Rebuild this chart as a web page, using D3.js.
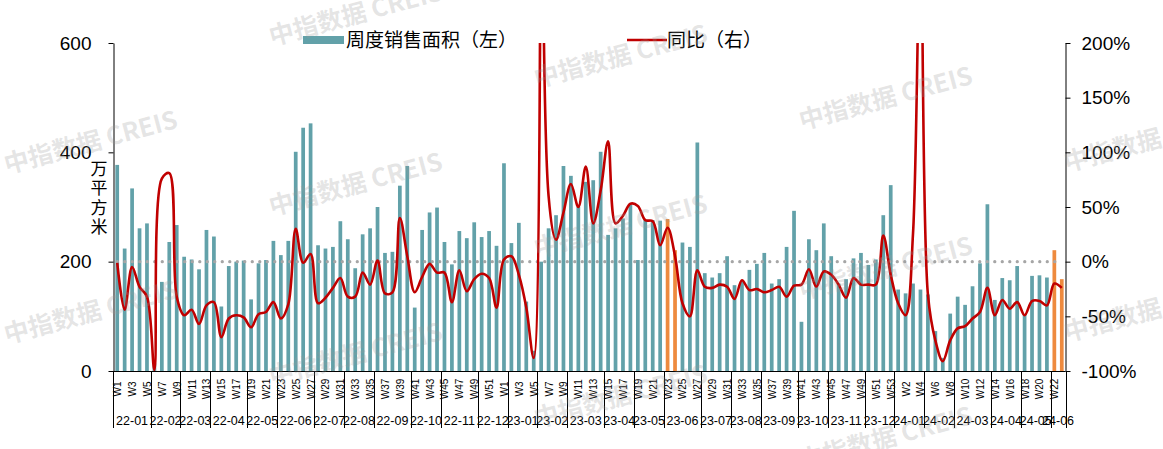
<!DOCTYPE html>
<html><head><meta charset="utf-8">
<script src="https://cdn.jsdelivr.net/npm/d3@7"></script>
<style>
body{margin:0;background:#fff;}
svg{display:block;font-family:"Liberation Sans",Arial,"Noto Sans CJK SC",sans-serif;}
</style>
</head><body>
<svg id="chart" width="1163" height="449"></svg>
<script>
// ---- categories (week labels per year) ----
const weeks2022 = ["W1","W2","W3","W4","W5","W6","W7","W8","W9","W10","W11","W12","W13","W14","W15","W16","W17","W18","W19","W20","W21","W22","W23","W24","W25","W26","W27","W28","W29","W30","W31","W32","W33","W34","W35","W36","W37","W38","W39","W40","W41","W42","W43","W44","W45","W46","W47","W48","W49","W50","W51","W52"];
const weeks2023 = ["W1","W2","W3","W4","W5","W6","W7","W8","W9","W10","W11","W12","W13","W14","W15","W16","W17","W18","W19","W20","W21","W22","W23","W24","W25","W26","W27","W28","W29","W30","W31","W32","W33","W34","W35","W36","W37","W38","W39","W40","W41","W42","W43","W44","W45","W46","W47","W48","W49","W50","W51","W52","W53"];
const weeks2024 = ["W1","W2","W3","W4","W5","W6","W7","W8","W9","W10","W11","W12","W13","W14","W15","W16","W17","W18","W19","W20","W21","W22","W23"];

// ---- month groups (label, number of weeks) ----
const monthLabels = ["22-01","22-02","22-03","22-04","22-05","22-06","22-07","22-08","22-09","22-10","22-11","22-12",
  "23-01","23-02","23-03","23-04","23-05","23-06","23-07","23-08","23-09","23-10","23-11","23-12",
  "24-01","24-02","24-03","24-04","24-05","24-06"];
const monthWeekCounts = [5,4,4,5,4,5,4,4,5,4,5,4, 4,4,5,4,4,5,4,4,5,4,5,4, 4,4,5,4,4,2];

// ---- weekly sales area (万平方米, left axis) ----
const sales2022 = [377,224,334,261,270,14,163,236,267,209,204,186,258,246,118,192,200,202,131,197,203,238,212,238,401,445,453,230,224,227,274,241,188,250,261,300,216,218,339,375,116,258,290,299,236,195,256,243,272,245,256,229];
const sales2023 = [380,234,271,127,37,200,261,285,375,357,300,346,349,401,249,261,279,304,203,276,276,275,278,221,235,227,418,179,171,179,210,157,165,185,196,216,160,168,227,293,90,241,221,270,210,160,168,206,216,194,204,285,340];
const sales2024 = [149,142,160,149,140,73,24,105,136,121,155,197,305,130,170,166,192,104,174,175,171,221,168];

// ---- year-on-year change (%, right axis) ----
const yoy2022 = [-1,-44,-5,-23,-32,-99,76,81,-32,-49,-44,-57,-40,-37,-69,-52,-49,-51,-60,-48,-46,-37,-52,-39,30,-1,7,-38,-33,-24,-15,-32,-32,-10,-21,1,-29,-28,40,5,-28,-14,-2,-10,-10,-37,-8,-27,-16,-11,-15,-42];
const yoy2023 = [2,5,-12,-42,-88,1350,60,20,45,71,50,87,35,65,110,35,42,53,51,38,37,15,31,5,-38,-50,-8,-23,-24,-21,-23,-34,-17,-26,-25,-28,-26,-23,-32,-22,-21,-7,-23,-9,-12,-21,-33,-15,-21,-21,-21,24,-12];
const yoy2024 = [-38,-49,26,300,-30,-72,-91,-72,-61,-59,-52,-46,-24,-49,-35,-43,-37,-49,-36,-36,-40,-20,-24];

// highlighted (orange) weeks
const highlightWeeks = ["2023-W23","2023-W24","2024-W22","2024-W23"];

// ---- tick values ----
const leftTicks = [0,200,400,600];
const rightTicks = [-100,-50,0,50,100,150,200];

const legendBarLabel = "周度销售面积（左）";
const legendLineLabel = "同比（右）";
const yTitle = "万平方米";
const watermarkText = "中指数据 CREIS";

// ---- build table ----
const rows = [];
[[2022,weeks2022,sales2022,yoy2022],[2023,weeks2023,sales2023,yoy2023],[2024,weeks2024,sales2024,yoy2024]].forEach(([yr,wk,s,y])=>{
  wk.forEach((w,i)=>rows.push({key:yr+"-"+w, week:w, sales:s[i], yoy:y[i]}));
});
const N = rows.length;

const svg = d3.select("#chart");
const m = {left:113.5, right:1065.5, top:43, bottom:371};
const TEAL = "#62A1A9", ORANGE = "#EE8A3E", RED = "#C00000";

const x = d3.scaleBand().domain(d3.range(N)).range([m.left, m.right]).paddingInner(0.5).paddingOuter(0.25);
const step = x.step();
const cx = i => x(i) + x.bandwidth()/2;
const yL = d3.scaleLinear().domain([0,600]).range([m.bottom, m.top]);
const yR = d3.scaleLinear().domain([-100,200]).range([m.bottom, m.top]);

svg.append("defs").append("clipPath").attr("id","plotclip")
  .append("rect").attr("x",m.left).attr("y",m.top).attr("width",m.right-m.left).attr("height",m.bottom-m.top+2);

// bars
svg.append("g").selectAll("rect").data(rows).join("rect")
  .attr("x",(d,i)=>x(i)).attr("width",x.bandwidth())
  .attr("y",d=>yL(d.sales)).attr("height",d=>yL(0)-yL(d.sales))
  .attr("fill",d=>highlightWeeks.includes(d.key)?ORANGE:TEAL);

// zero reference dotted line
svg.append("line").attr("x1",cx(0)).attr("x2",cx(N-1)).attr("y1",yR(0)).attr("y2",yR(0))
  .attr("stroke","#A6A6A6").attr("stroke-width",3.2).attr("stroke-dasharray","0.1,7.4").attr("stroke-linecap","round");

// YoY line
const line = d3.line().x((d,i)=>cx(i)).y(d=>yR(d.yoy)).curve(d3.curveCatmullRom.alpha(0.5));
svg.append("path").datum(rows).attr("d",line).attr("fill","none").attr("stroke",RED)
  .attr("stroke-width",2.6).attr("clip-path","url(#plotclip)");

// left axis
const axL = svg.append("g").attr("transform",`translate(${m.left},0)`)
  .call(d3.axisLeft(yL).tickValues(leftTicks).tickSize(5).tickPadding(17).tickSizeOuter(0));
axL.selectAll("text").attr("font-size",19).attr("fill","#000").attr("font-family",'"Liberation Sans",Arial,sans-serif');
axL.selectAll("line,path").attr("stroke","#000");

// right axis
const axR = svg.append("g").attr("transform",`translate(${m.right},0)`)
  .call(d3.axisRight(yR).tickValues(rightTicks).tickSize(5).tickPadding(11).tickSizeOuter(0).tickFormat(d=>d+"%"));
axR.selectAll("text").attr("font-size",19).attr("fill","#000").attr("font-family",'"Liberation Sans",Arial,sans-serif');
axR.selectAll("line,path").attr("stroke","#000");

// bottom axis line
svg.append("line").attr("x1",m.left).attr("x2",m.right).attr("y1",m.bottom+0.5).attr("y2",m.bottom+0.5).attr("stroke","#000");

// week labels (every other)
const wl = svg.append("g");
rows.forEach((d,i)=>{
  if(i%2===0){
    wl.append("text").attr("transform",`translate(${cx(i)+0.5},389) rotate(-90)`)
      .attr("text-anchor","middle").attr("dominant-baseline","central")
      .attr("font-size",10).attr("fill","#000").text(d.week);
  }
});

// month dividers + labels
let acc = 0;
const mg = svg.append("g");
const bx = i => m.left + i*step;
mg.append("line").attr("x1",bx(0)).attr("x2",bx(0)).attr("y1",m.bottom).attr("y2",428).attr("stroke","#000");
monthLabels.forEach((lab,k)=>{
  const start = acc, end = acc + monthWeekCounts[k];
  acc = end;
  mg.append("line").attr("x1",Math.round(bx(end))+0.5).attr("x2",Math.round(bx(end))+0.5).attr("y1",m.bottom).attr("y2",428).attr("stroke","#000");
  mg.append("text").attr("x",(bx(start)+bx(end))/2).attr("y",425)
    .attr("text-anchor","middle").attr("font-size",12.5).attr("fill","#000").text(lab);
});

// y title (vertical, one text)
svg.append("text").attr("x",99).attr("y",160)
  .attr("writing-mode","tb").style("writing-mode","vertical-rl").style("text-orientation","upright")
  .attr("letter-spacing",2.5).attr("font-size",17).attr("font-family",'"Noto Sans CJK SC",sans-serif')
  .attr("fill","#000").text(yTitle);

// legend
const lg = svg.append("g");
lg.append("rect").attr("x",303).attr("y",36).attr("width",41).attr("height",8).attr("fill",TEAL);
lg.append("text").attr("x",346).attr("y",46.5).attr("font-size",19).attr("font-family",'"Noto Sans CJK SC",sans-serif').attr("fill","#000").text(legendBarLabel);
lg.append("line").attr("x1",627).attr("x2",667).attr("y1",40).attr("y2",40).attr("stroke",RED).attr("stroke-width",2.6);
lg.append("text").attr("x",667).attr("y",46.5).attr("font-size",19).attr("font-family",'"Noto Sans CJK SC",sans-serif').attr("fill","#000").text(legendLineLabel);

// watermark texts (faint)
const wm2 = svg.append("g").attr("pointer-events","none");
for(let c=-1;c<6;c++){
  for(let r=-2;r<4;r++){
    const px = 90 + 265*c, py = 140 + 42*c + 170*r;
    if(px<-60||px>1220||py<0||py>470) continue;
    wm2.append("text").attr("transform",`translate(${px},${py}) rotate(-15)`).attr("text-anchor","middle")
      .attr("dominant-baseline","central").attr("font-size",25).attr("font-weight","bold")
      .attr("font-family",'"Noto Sans CJK SC",sans-serif').attr("fill","#999").attr("fill-opacity",0.26)
      .text(watermarkText);
  }
}
</script>
</body></html>
